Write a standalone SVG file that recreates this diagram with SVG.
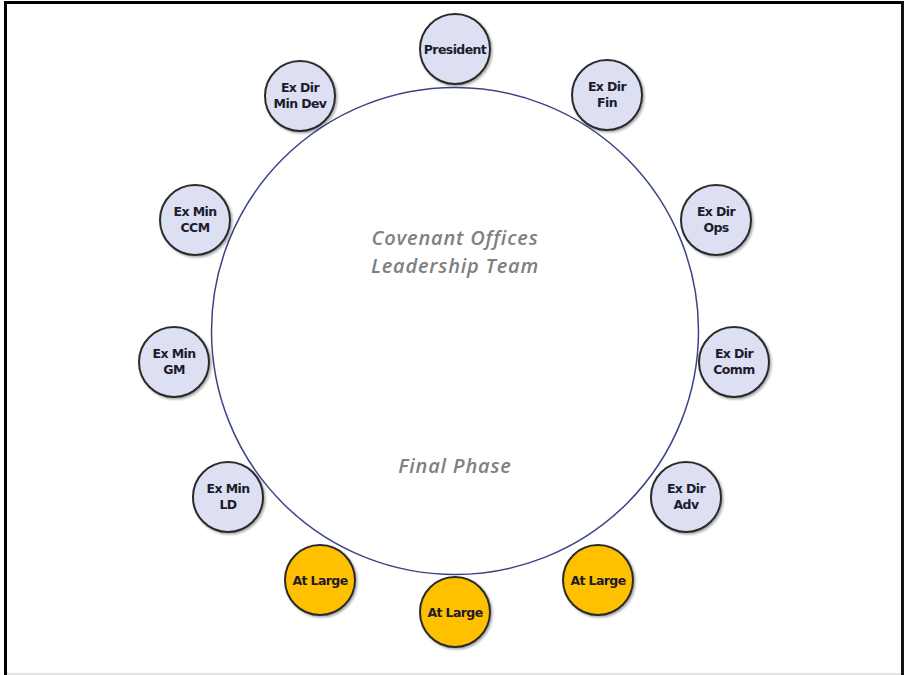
<svg xmlns="http://www.w3.org/2000/svg" width="904" height="675" viewBox="0 0 904 675">
<defs>
<filter id="sh" x="-20%" y="-20%" width="150%" height="150%">
<feDropShadow dx="1.5" dy="1.5" stdDeviation="1.2" flood-color="#000" flood-opacity="0.35"/>
</filter>
<style>
.n circle{fill:#dde0f3;stroke:#2b2b2b;stroke-width:2;filter:url(#sh)}
.n.y circle{fill:#ffc000}
.n text{font-family:"DejaVu Sans",sans-serif;font-weight:bold;font-size:12.5px;fill:#1c1c2c;text-anchor:middle;letter-spacing:-0.6px}
.t{font-family:"Open Sans","DejaVu Sans",sans-serif;font-style:italic;font-weight:600;font-size:20px;fill:#808080;text-anchor:middle;letter-spacing:0.8px}
</style>
</defs>
<rect width="904" height="675" fill="#fff"/>
<line x1="5.5" y1="1" x2="5.5" y2="675" stroke="#000" stroke-width="3"/>
<line x1="4" y1="2.5" x2="904" y2="2.5" stroke="#000" stroke-width="3"/>
<line x1="902.5" y1="1" x2="902.5" y2="675" stroke="#111" stroke-width="3"/>
<line x1="7" y1="674" x2="901" y2="674" stroke="#c8c8c8" stroke-width="1"/>
<g id="connectors">
<circle cx="455" cy="331" r="243.5" fill="none" stroke="#3a4585" stroke-width="1.5"/>
</g>
<g id="title"><text class="t" x="455" y="245">Covenant Offices</text><text class="t" x="455" y="273">Leadership Team</text></g>
<g id="phase"><text class="t" x="455" y="473">Final Phase</text></g>
<g id="president" class="n"><circle cx="455" cy="49" r="35"/><text x="455" y="54">President</text></g>
<g id="exdir-min-dev" class="n"><circle cx="300" cy="96" r="35"/><text x="300" y="92">Ex Dir</text><text x="300" y="108">Min Dev</text></g>
<g id="exdir-fin" class="n"><circle cx="607" cy="95" r="35"/><text x="607" y="91">Ex Dir</text><text x="607" y="107">Fin</text></g>
<g id="exmin-ccm" class="n"><circle cx="195" cy="220" r="35"/><text x="195" y="216">Ex Min</text><text x="195" y="232">CCM</text></g>
<g id="exdir-ops" class="n"><circle cx="716" cy="220" r="35"/><text x="716" y="216">Ex Dir</text><text x="716" y="232">Ops</text></g>
<g id="exmin-gm" class="n"><circle cx="174" cy="362" r="35"/><text x="174" y="358">Ex Min</text><text x="174" y="374">GM</text></g>
<g id="exdir-comm" class="n"><circle cx="734" cy="362" r="35"/><text x="734" y="358">Ex Dir</text><text x="734" y="374">Comm</text></g>
<g id="exmin-ld" class="n"><circle cx="228" cy="497" r="35"/><text x="228" y="493">Ex Min</text><text x="228" y="509">LD</text></g>
<g id="exdir-adv" class="n"><circle cx="686" cy="497" r="35"/><text x="686" y="493">Ex Dir</text><text x="686" y="509">Adv</text></g>
<g id="at-large-left" class="n y"><circle cx="320" cy="580" r="35"/><text x="320" y="585">At Large</text></g>
<g id="at-large-center" class="n y"><circle cx="455" cy="612" r="35"/><text x="455" y="617">At Large</text></g>
<g id="at-large-right" class="n y"><circle cx="598" cy="580" r="35"/><text x="598" y="585">At Large</text></g>
</svg>
